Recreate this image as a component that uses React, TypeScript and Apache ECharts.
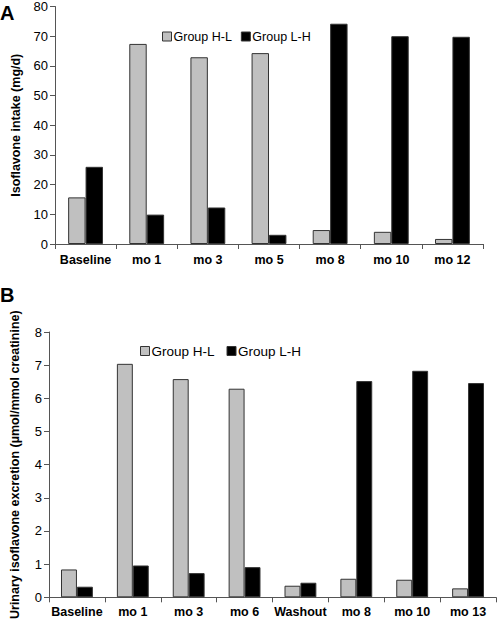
import React, { useEffect, useRef } from "react";
import * as echarts from "echarts";

const catsA = ["Baseline", "mo 1", "mo 3", "mo 5", "mo 8", "mo 10", "mo 12"];
const hlA = [15.7, 67.4, 62.9, 64.3, 4.7, 4.1, 1.7];
const lhA = [26.0, 9.9, 12.3, 3.1, 74.2, 70.0, 69.8];
const ticksA = { min: 0, max: 80, interval: 10 };

const catsB = ["Baseline", "mo 1", "mo 3", "mo 6", "Washout", "mo 8", "mo 10", "mo 13"];
const hlB = [0.84, 7.04, 6.58, 6.29, 0.35, 0.56, 0.53, 0.27];
const lhB = [0.32, 0.96, 0.73, 0.91, 0.44, 6.52, 6.83, 6.46];
const ticksB = { min: 0, max: 8, interval: 1 };

const seriesNames = ["Group H-L", "Group L-H"];

const FONT = "'Liberation Sans', Arial, sans-serif";
const AXIS_COLOR = "#555";
const GRAY = "#c0c0c0";
const BLACK = "#000";

export default function App() {
  const ref = useRef<HTMLDivElement>(null);
  useEffect(() => {
    if (!ref.current) return;
    const chart = echarts.init(ref.current, null, { renderer: "svg" });
    const xAxisCommon = (gridIndex: number, data: string[], margin: number) => ({
      type: "category",
      gridIndex,
      data,
      axisLine: { lineStyle: { color: AXIS_COLOR, width: 1 } },
      axisTick: { show: true, length: 5, lineStyle: { color: AXIS_COLOR } },
      axisLabel: {
        color: "#000",
        fontFamily: FONT,
        fontWeight: "bold",
        fontSize: 12.5,
        margin,
        interval: 0,
      },
    });
    const yAxisCommon = (gridIndex: number, t: any, name: string, nameGap: number) => ({
      type: "value",
      gridIndex,
      min: t.min,
      max: t.max,
      interval: t.interval,
      name,
      nameLocation: "middle",
      nameGap,
      nameTextStyle: { color: "#000", fontFamily: FONT, fontWeight: "bold", fontSize: 12.5 },
      axisLine: { show: true, lineStyle: { color: AXIS_COLOR, width: 1 } },
      axisTick: { show: true, length: 5, lineStyle: { color: AXIS_COLOR } },
      splitLine: { show: false },
      axisLabel: { color: "#000", fontFamily: FONT, fontSize: 13, margin: 7 },
    });
    const barStyle = (color: string) => ({ color, borderColor: "#333", borderWidth: 1 });
    const mkSeries = (name: string, data: number[], idx: number, color: string) => ({
      name,
      type: "bar",
      xAxisIndex: idx,
      yAxisIndex: idx,
      data,
      barGap: "0%",
      barCategoryGap: "43%",
      itemStyle: barStyle(color),
    });
    const legendCommon = (fontSize: number, size: number, gap: number) => ({
      orient: "horizontal",
      itemWidth: size,
      itemHeight: size,
      itemGap: gap,
      icon: "rect",
      textStyle: { color: "#000", fontFamily: FONT, fontSize, padding: [0, 0, 0, -3] },
      data: seriesNames.map((n, i) => ({
        name: n,
        itemStyle: { color: i === 0 ? GRAY : BLACK, borderColor: "#333", borderWidth: 1 },
      })),
    });
    chart.setOption({
      animation: false,
      backgroundColor: "#fff",
      grid: [
        { left: 55, right: 15, top: 5, height: 239 },
        { left: 35, right: 2, top: 332, height: 267 },
      ],
      legend: [
        { ...legendCommon(12.5, 9, 9), left: 157, top: 25 },
        { ...legendCommon(13.5, 9, 12), left: 135, top: 339 },
      ],
      xAxis: [xAxisCommon(0, catsA, 9), xAxisCommon(1, catsB, 8)],
      yAxis: [
        yAxisCommon(0, ticksA, "Isoflavone intake (mg/d)", 33),
        yAxisCommon(1, ticksB, "Urinary isoflavone excretion (µmol/mmol creatinine)", 28),
      ],
      graphic: [
        {
          type: "text",
          left: 0,
          top: 3,
          style: { text: "A", font: `bold 20px ${FONT}`, fill: "#000" },
        },
        {
          type: "text",
          left: 0,
          top: 285,
          style: { text: "B", font: `bold 20px ${FONT}`, fill: "#000" },
        },
      ],
      series: [
        mkSeries(seriesNames[0], hlA, 0, GRAY),
        mkSeries(seriesNames[1], lhA, 0, BLACK),
        mkSeries(seriesNames[0], hlB, 1, GRAY),
        mkSeries(seriesNames[1], lhB, 1, BLACK),
      ],
    });
    return () => chart.dispose();
  }, []);
  return (
    <div
      ref={ref}
      style={{ position: "fixed", left: 0, top: 0, width: 498, height: 622, background: "#fff" }}
    />
  );
}
